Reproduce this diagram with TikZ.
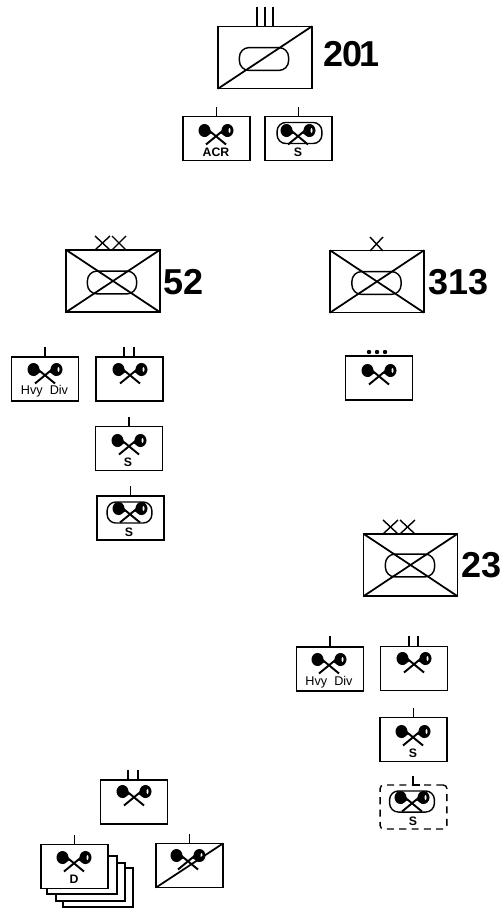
\documentclass[tikz,border=0pt]{standalone}
\usepackage{fontspec}
\setmainfont{Liberation Sans}
\usetikzlibrary{arrows}
\tikzset{
  unit/.style = {rectangle, draw=black, line width=.8pt, inner sep=0pt, outer sep=0pt},
  big_u/.style = {unit, minimum width=53.5pt, minimum height=35.5pt},
  small_u/.style = {unit, minimum width=38pt, minimum height=25pt},
  dash_u/.style = {small_u, dashed, dash pattern=on 4pt off 3pt, rounded corners=2pt},
  pill/.style = {rectangle, draw=black, line width=.8pt, inner sep=0pt, rounded corners=5.5pt,
    minimum width=28pt, minimum height=13pt},
  pill_s/.style = {pill, minimum width=25.5pt, minimum height=12pt, rounded corners=5pt},
  num/.style = {inner sep=0pt, font=\fontsize{20.5}{20.5}\selectfont\bfseries},
  tag/.style = {inner sep=0pt, font=\fontsize{7}{7}\selectfont\bfseries},
  tag_l/.style = {inner sep=0pt, font=\fontsize{7.2}{7.2}\selectfont},
  tick/.style = {line width=.8pt},
  axes/.pic = {
    \fill (-11.5,-3.5) ellipse (6 and 6.5);
    \fill (-12,-10) -- (-4,-1) -- (-11,3) -- cycle;
    \fill (11.5,-3.5) ellipse (6 and 6.5);
    \fill (12,-10) -- (4,-1) -- (11,3) -- cycle;
    \fill[white] (13.5,-3.5) ellipse (1 and 2.5);
    \draw[line width=1.1pt] (-10,10.5) -- (7,-3.5);
    \draw[line width=1.1pt] (10,10.5) -- (-7,-3.5);
  },
}
\begin{document}
\begin{tikzpicture}[x=.02cm,y=-.02cm]
  \useasboundingbox (0,0) rectangle (500,908);

  % top group
  \node[big_u] (u201) at (265,57.5) {};
  \node[pill] (p201) at (264,59) {};
  \node[num,anchor=west] (n201) at (323,54) {2\kern-.5pt0\kern-1.5pt1};
  \node[small_u] (acr) at (216.5,138.5) {};
  \node[small_u] (s201) at (298.5,138.5) {};
  \node[pill_s] (ps201) at (299.5,133) {};
  \pic at (216,134) {axes};
  \pic at (298,134) {axes};
  \node[tag] (t_acr) at (216,152) {ACR};
  \node[tag] (t_s201) at (298,152) {S};

  \draw[line width=1pt] (u201.south west) -- (u201.north east);
  \draw[tick] (257,7) -- (257,26);
  \draw[tick] (265,7) -- (265,26);
  \draw[tick] (273,7) -- (273,26);
  \draw[tick] (acr.north) -- +(0,-10);
  \draw[tick] (s201.north) -- +(0,-10);

  % left group
  \node[big_u] (u52) at (113,281) {};
  \node[pill] (p52) at (112,282.5) {};
  \node[num,anchor=west] (n52) at (163,282) {52};
  \node[small_u] (hvy52) at (45,379) {};
  \node[small_u] (inf52) at (129.5,379) {};
  \node[small_u] (s52) at (129,448.5) {};
  \node[small_u] (ps52) at (130.5,518) {};
  \node[pill_s] (pp52) at (129.5,512.5) {};
  \pic at (45,373) {axes};
  \pic at (130,373) {axes};
  \pic at (129,444) {axes};
  \pic at (130,512) {axes};
  \node[tag_l] (t_hvy52) at (44.5,391) {Hvy\ \ Div};
  \node[tag] (t_s52) at (128,462) {S};
  \node[tag] (t_ps52) at (129,532) {S};

  \draw[line width=1pt] (u52.south west) -- (u52.north east);
  \draw[line width=1pt] (u52.north west) -- (u52.south east);
  \draw[tick] (95,236) -- (110,250);
  \draw[tick] (110,236) -- (95,250);
  \draw[tick] (112,236) -- (126,250);
  \draw[tick] (126,236) -- (112,250);
  \draw[tick] (hvy52.north) -- +(0,-10);
  \draw[tick] (124,347) -- (124,357);
  \draw[tick] (134,347) -- (134,357);
  \draw[tick] (s52.north) -- +(0,-10);
  \draw[tick] (ps52.north) -- +(0,-10);

  % right group
  \node[big_u] (u313) at (377,281.5) {};
  \node[pill] (p313) at (376.5,283) {};
  \node[num,anchor=west] (n313) at (428,282) {313};
  \node[small_u] (dots) at (379,378) {};
  \pic at (379,374) {axes};
  \fill (369,352) circle (2.2) (377,352) circle (2.2) (385,352) circle (2.2);

  \draw[line width=1pt] (u313.south west) -- (u313.north east);
  \draw[line width=1pt] (u313.north west) -- (u313.south east);
  \draw[tick] (370,237) -- (383,251);
  \draw[tick] (383,237) -- (370,251);

  % lower right group
  \node[big_u] (u23) at (410.5,565) {};
  \node[pill] (p23) at (410,565.5) {};
  \node[num,anchor=west] (n23) at (461,565) {23};
  \node[small_u] (hvy23) at (330,669) {};
  \node[small_u] (inf23) at (414,668.5) {};
  \node[small_u] (s23) at (413.5,739.5) {};
  \node[dash_u] (d23) at (413.5,807) {};
  \node[pill_s] (pd23) at (412,801.5) {};
  \pic at (329,663) {axes};
  \pic at (414,662) {axes};
  \pic at (413,735) {axes};
  \pic at (412,801) {axes};
  \node[tag_l] (t_hvy23) at (329,682) {Hvy\ \ Div};
  \node[tag] (t_s23) at (413,753) {S};
  \node[tag] (t_d23) at (413,821) {S};

  \draw[line width=1pt] (u23.south west) -- (u23.north east);
  \draw[line width=1pt] (u23.north west) -- (u23.south east);
  \draw[tick] (383,520) -- (398,534);
  \draw[tick] (398,520) -- (383,534);
  \draw[tick] (400,520) -- (415,534);
  \draw[tick] (415,520) -- (400,534);
  \draw[tick] (hvy23.north) -- +(0,-11);
  \draw[tick] (409,636) -- (409,646);
  \draw[tick] (418,636) -- (418,646);
  \draw[tick] (s23.north) -- +(0,-10);
  \draw[tick] (413,776) -- (413,785) -- (420,785);

  % bottom group
  \draw[line width=.8pt] (63,868) rectangle (133,907);
  \draw[line width=.8pt,fill=white] (56,863) rectangle (125,901);
  \draw[line width=.8pt,fill=white] (47,856) rectangle (117,894);
  \node[small_u] (b_inf) at (134,802) {};
  \node[small_u,fill=white] (b_d) at (74.5,866.5) {};
  \node[small_u] (b_x) at (189.5,865.5) {};
  \pic at (134,795) {axes};
  \pic at (74,861) {axes};
  \pic at (188,859) {axes};
  \node[tag] (t_d) at (74,879) {D};

  \draw[line width=1pt] (b_x.south west) -- (b_x.north east);
  \draw[tick] (128,770) -- (128,780);
  \draw[tick] (138,770) -- (138,780);
  \draw[tick] (b_d.north) -- +(0,-10);
  \draw[tick] (b_x.north) -- +(0,-10);
\end{tikzpicture}
\end{document}
